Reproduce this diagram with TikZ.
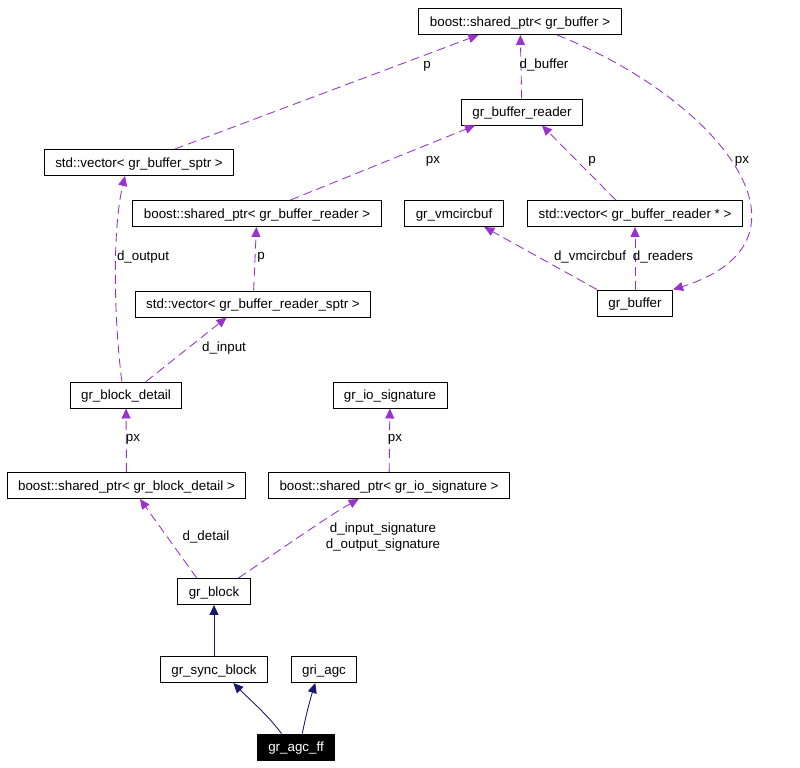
\documentclass[tikz,border=0pt]{standalone}
\usepackage{fontspec}
\setmainfont{Liberation Sans}
\usetikzlibrary{shapes,arrows.meta}

\definecolor{usecol}{HTML}{9A32CD}
\definecolor{inhcol}{HTML}{191970}

\begin{document}
\begin{tikzpicture}[x=0.02cm, y=-0.02cm, font=\fontsize{7.6}{9.1}\selectfont]
    % Define styles
    \tikzstyle{cls} = [draw, rectangle, line width=0.55pt, minimum height=0.52cm, inner xsep=0.22cm, inner ysep=0pt, text height=6.5pt, text depth=0.9pt]
    \tikzstyle{this} = [cls, fill=black, text=white]
    \tikzstyle{lbl} = [inner sep=0pt, align=center]
    \tikzstyle{uses} = [usecol, line width=0.5pt, dash pattern=on 0.18cm off 0.1cm, -{Triangle[length=2mm, width=1.8mm]}]
    \tikzstyle{inherits} = [inhcol, line width=0.5pt, -{Triangle[length=2mm, width=1.8mm]}]

    \useasboundingbox (0,0) rectangle (800,767);

    % Row 1: buffer pointer
    \node[cls] (bufptr) at (520,21.5) {boost::shared\_ptr< gr\_buffer >};

    % Row 2: buffer reader
    \node[cls] (bufreader) at (522,112) {gr\_buffer\_reader};
    \node[cls] (sptrvec) at (139,162.5) {std::vector< gr\_buffer\_sptr >};

    % Row 3: reader pointer and buffer members
    \node[cls] (readerptr) at (257,213.5) {boost::shared\_ptr< gr\_buffer\_reader >};
    \node[cls] (vmcircbuf) at (454,213.5) {gr\_vmcircbuf};
    \node[cls] (readervec) at (635,213.5) {std::vector< gr\_buffer\_reader * >};

    % Row 4: reader vector and buffer
    \node[cls] (readersptrvec) at (253,304) {std::vector< gr\_buffer\_reader\_sptr >};
    \node[cls] (buffer) at (635,303) {gr\_buffer};

    % Row 5: block detail and io signature
    \node[cls] (blockdetail) at (126,395) {gr\_block\_detail};
    \node[cls] (iosig) at (390,395) {gr\_io\_signature};

    % Row 6: shared pointers
    \node[cls] (detailptr) at (126.5,485.5) {boost::shared\_ptr< gr\_block\_detail >};
    \node[cls] (iosigptr) at (389,485.5) {boost::shared\_ptr< gr\_io\_signature >};

    % Row 7-9: class hierarchy
    \node[cls] (block) at (214,591.5) {gr\_block};
    \node[cls] (syncblock) at (214,669.5) {gr\_sync\_block};
    \node[cls] (griagc) at (324,669.5) {gri\_agc};
    \node[this] (agcff) at (296,747) {gr\_agc\_ff};

    % Arrows: usage
    \draw[uses] (sptrvec) -- (bufptr.198);
    \draw[uses] (bufreader) -- (bufptr);
    \draw[uses] (bufptr.340) .. controls (720,100) and (830,240) .. (buffer.north east);
    \draw[uses] (readerptr) -- (bufreader.196);
    \draw[uses] (readervec.145) -- (bufreader.326);
    \draw[uses] (buffer.north west) -- (vmcircbuf.336);
    \draw[uses] (buffer) -- (readervec);
    \draw[uses] (blockdetail.107) .. controls (114,320) and (112,230) .. (sptrvec.224);
    \draw[uses] (readersptrvec) -- (readerptr);
    \draw[uses] (blockdetail.34) -- (readersptrvec.207);
    \draw[uses] (detailptr) -- (blockdetail);
    \draw[uses] (iosigptr) -- (iosig);
    \draw[uses] (block.142) -- (detailptr.315);
    \draw[uses] (block.29) .. controls (280,550) and (330,515) .. (iosigptr.204);

    % Arrows: inheritance
    \draw[inherits] (syncblock) -- (block);
    \draw[inherits] (agcff.137) .. controls (265,712) and (250,700) .. (syncblock.325);
    \draw[inherits] (agcff.65) .. controls (306,715) and (310,700) .. (griagc.237);

    % Edge labels
    \node[lbl] (lp1) at (427,66) {p};
    \node[lbl] (lbuf) at (544,65) {d\_buffer};
    \node[lbl] (lpx1) at (742,161) {px};
    \node[lbl] (lpx2) at (433,161) {px};
    \node[lbl] (lp2) at (592,161) {p};
    \node[lbl] (lout) at (143,257) {d\_output};
    \node[lbl] (lp3) at (261,257) {p};
    \node[lbl] (lvm) at (590,257) {d\_vmcircbuf};
    \node[lbl] (lrd) at (663,257) {d\_readers};
    \node[lbl] (lin) at (224,348) {d\_input};
    \node[lbl] (lpx3) at (133,439) {px};
    \node[lbl] (lpx4) at (395,439) {px};
    \node[lbl] (ldet) at (206,537) {d\_detail};
    \node[lbl] (lsig) at (383,537) {d\_input\_signature\\d\_output\_signature};
\end{tikzpicture}
\end{document}
